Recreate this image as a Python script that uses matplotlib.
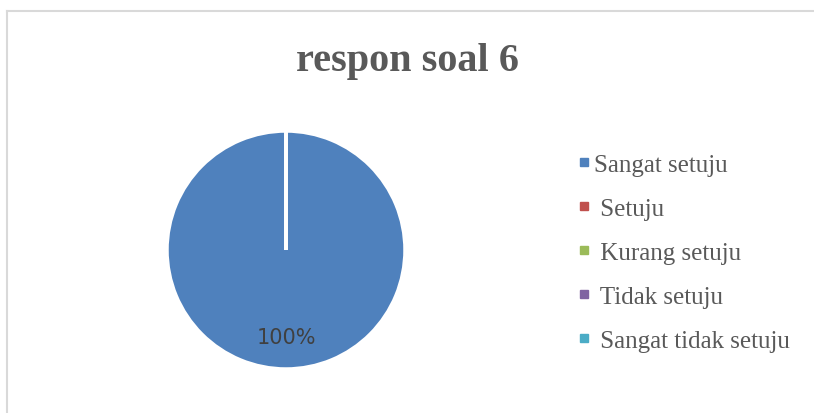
import matplotlib.pyplot as plt
from matplotlib.lines import Line2D

# data
kategori = ["Sangat setuju", " Setuju", " Kurang setuju", " Tidak setuju", " Sangat tidak setuju"]
nilai = [100, 0, 0, 0, 0]
warna = ["#4F81BD", "#C0504D", "#9BBB59", "#8064A2", "#4BACC6"]

plt.rcParams["font.family"] = ["Liberation Serif", "DejaVu Serif"]

fig = plt.figure(figsize=(8.14, 4.14), dpi=100)

# border of the chart area (only left and top visible)
fig.add_artist(Line2D([6.5 / 814, 6.5 / 814], [0, 1 - 11.5 / 414], color="#D9D9D9", lw=1.5))
fig.add_artist(Line2D([6.5 / 814, 1], [1 - 11.5 / 414, 1 - 11.5 / 414], color="#D9D9D9", lw=1.5))

# pie axes: center (286, 251), radius ~119 px
r = 119
cx, cy = 286, 251
ax = fig.add_axes([(cx - r) / 814, 1 - (cy + r) / 414, 2 * r / 814, 2 * r / 414])

def fmt_pct(p):
    return "%.0f%%" % p if p > 0 else ""

wedges, teks, pct = ax.pie(nilai, colors=warna, startangle=90, counterclock=False,
                           autopct=fmt_pct, pctdistance=0.73,
                           wedgeprops=dict(edgecolor="white", linewidth=2.5),
                           textprops=dict(color="#404040", fontsize=15, family=["DejaVu Sans"]))
ax.set_xlim(-1, 1)
ax.set_ylim(-1, 1)
ax.set_aspect("equal")

fig.text(0.5, 1 - 61 / 414, "respon soal 6", ha="center", va="center",
         fontsize=29, fontweight="bold", color="#595959")

handles = [Line2D([], [], marker="s", linestyle="none", markersize=6,
                  markerfacecolor=c, markeredgecolor=c) for c in warna]
fig.legend(handles, kategori, loc="center left", bbox_to_anchor=(554 / 814, 1 - 253.5 / 414),
           frameon=False, fontsize=18, labelcolor="#595959", handlelength=0.6,
           handletextpad=0.1, labelspacing=0.86)

fig.savefig("out.png", dpi=100, facecolor="white")
